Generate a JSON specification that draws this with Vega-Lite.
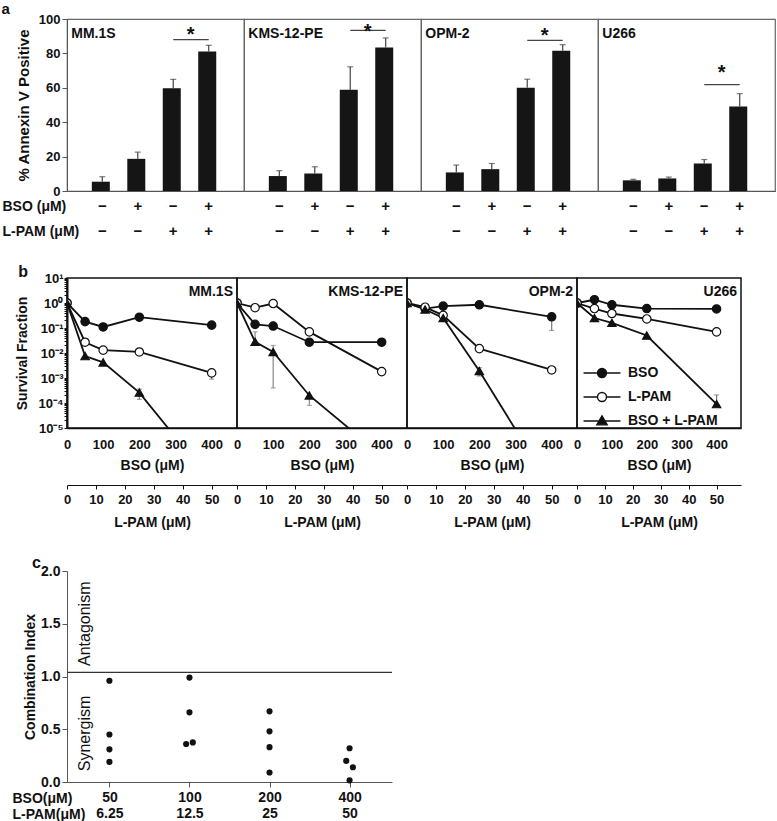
{
  "$schema": "https://vega.github.io/schema/vega-lite/v6.json",
  "background": "white",
  "padding": {"left": 1, "top": 2, "right": 0, "bottom": 0},
  "spacing": 25,
  "config": {
    "font": "Liberation Sans",
    "view": {"stroke": null},
    "axis": {"labelFont": "Liberation Sans", "titleFont": "Liberation Sans", "labelFontWeight": "bold", "titleFontWeight": "bold", "labelColor": "#111", "titleColor": "#111", "grid": false},
    "legend": {"labelFont": "Liberation Sans"},
    "title": {"font": "Liberation Sans", "fontSize": 16, "fontWeight": "bold", "color": "#111", "anchor": "start"},
    "text": {"font": "Liberation Sans"}
  },
  "datasets": {
    "annexin": [
      {"cell": "MM.1S", "treatment": "−,−", "mean": 5.4, "upper": 8.3},
      {"cell": "MM.1S", "treatment": "+,−", "mean": 18.7, "upper": 22.6},
      {"cell": "MM.1S", "treatment": "−,+", "mean": 59.7, "upper": 64.9},
      {"cell": "MM.1S", "treatment": "+,+", "mean": 81.1, "upper": 84.7},
      {"cell": "KMS-12-PE", "treatment": "−,−", "mean": 8.7, "upper": 11.8},
      {"cell": "KMS-12-PE", "treatment": "+,−", "mean": 10.2, "upper": 14.1},
      {"cell": "KMS-12-PE", "treatment": "−,+", "mean": 58.9, "upper": 72.2},
      {"cell": "KMS-12-PE", "treatment": "+,+", "mean": 83.4, "upper": 89.0},
      {"cell": "OPM-2", "treatment": "−,−", "mean": 10.8, "upper": 15.1},
      {"cell": "OPM-2", "treatment": "+,−", "mean": 12.7, "upper": 16.0},
      {"cell": "OPM-2", "treatment": "−,+", "mean": 60.0, "upper": 65.0},
      {"cell": "OPM-2", "treatment": "+,+", "mean": 81.5, "upper": 85.1},
      {"cell": "U266", "treatment": "−,−", "mean": 6.2, "upper": 6.8},
      {"cell": "U266", "treatment": "+,−", "mean": 7.3, "upper": 8.1},
      {"cell": "U266", "treatment": "−,+", "mean": 16.0, "upper": 18.3},
      {"cell": "U266", "treatment": "+,+", "mean": 49.2, "upper": 56.6}
    ],
    "sig": [
      {"cell": "MM.1S", "from": "−,+", "to": "+,+", "line": 88.0, "star": 87.0},
      {"cell": "KMS-12-PE", "from": "−,+", "to": "+,+", "line": 93.4, "star": 89.0},
      {"cell": "OPM-2", "from": "−,+", "to": "+,+", "line": 87.6, "star": 86.4},
      {"cell": "U266", "from": "−,+", "to": "+,+", "line": 61.8, "star": 65.0}
    ],
    "survival": [
      {"cell": "MM.1S", "series": "BSO", "bso": 0, "lpam": 0, "sf": 1.0},
      {"cell": "MM.1S", "series": "BSO", "bso": 50, "lpam": 6.25, "sf": 0.18},
      {"cell": "MM.1S", "series": "BSO", "bso": 100, "lpam": 12.5, "sf": 0.11},
      {"cell": "MM.1S", "series": "BSO", "bso": 200, "lpam": 25, "sf": 0.27},
      {"cell": "MM.1S", "series": "BSO", "bso": 400, "lpam": 50, "sf": 0.13},
      {"cell": "MM.1S", "series": "L-PAM", "bso": 0, "lpam": 0, "sf": 1.0},
      {"cell": "MM.1S", "series": "L-PAM", "bso": 50, "lpam": 6.25, "sf": 0.027},
      {"cell": "MM.1S", "series": "L-PAM", "bso": 100, "lpam": 12.5, "sf": 0.013},
      {"cell": "MM.1S", "series": "L-PAM", "bso": 200, "lpam": 25, "sf": 0.011},
      {"cell": "MM.1S", "series": "L-PAM", "bso": 400, "lpam": 50, "sf": 0.0016},
      {"cell": "MM.1S", "series": "BSO + L-PAM", "bso": 0, "lpam": 0, "sf": 1.0},
      {"cell": "MM.1S", "series": "BSO + L-PAM", "bso": 50, "lpam": 6.25, "sf": 0.0075},
      {"cell": "MM.1S", "series": "BSO + L-PAM", "bso": 100, "lpam": 12.5, "sf": 0.0042},
      {"cell": "MM.1S", "series": "BSO + L-PAM", "bso": 200, "lpam": 25, "sf": 0.00026},
      {"cell": "MM.1S", "series": "BSO + L-PAM", "bso": 400, "lpam": 50, "sf": 0.00000007},
      {"cell": "KMS-12-PE", "series": "BSO", "bso": 0, "lpam": 0, "sf": 1.0},
      {"cell": "KMS-12-PE", "series": "BSO", "bso": 50, "lpam": 6.25, "sf": 0.14},
      {"cell": "KMS-12-PE", "series": "BSO", "bso": 100, "lpam": 12.5, "sf": 0.12},
      {"cell": "KMS-12-PE", "series": "BSO", "bso": 200, "lpam": 25, "sf": 0.027},
      {"cell": "KMS-12-PE", "series": "BSO", "bso": 400, "lpam": 50, "sf": 0.027},
      {"cell": "KMS-12-PE", "series": "L-PAM", "bso": 0, "lpam": 0, "sf": 1.0},
      {"cell": "KMS-12-PE", "series": "L-PAM", "bso": 50, "lpam": 6.25, "sf": 0.65},
      {"cell": "KMS-12-PE", "series": "L-PAM", "bso": 100, "lpam": 12.5, "sf": 0.95},
      {"cell": "KMS-12-PE", "series": "L-PAM", "bso": 200, "lpam": 25, "sf": 0.07},
      {"cell": "KMS-12-PE", "series": "L-PAM", "bso": 400, "lpam": 50, "sf": 0.0018},
      {"cell": "KMS-12-PE", "series": "BSO + L-PAM", "bso": 0, "lpam": 0, "sf": 1.0},
      {"cell": "KMS-12-PE", "series": "BSO + L-PAM", "bso": 50, "lpam": 6.25, "sf": 0.028},
      {"cell": "KMS-12-PE", "series": "BSO + L-PAM", "bso": 100, "lpam": 12.5, "sf": 0.011},
      {"cell": "KMS-12-PE", "series": "BSO + L-PAM", "bso": 200, "lpam": 25, "sf": 0.0002},
      {"cell": "KMS-12-PE", "series": "BSO + L-PAM", "bso": 400, "lpam": 50, "sf": 0.0000008},
      {"cell": "OPM-2", "series": "BSO", "bso": 0, "lpam": 0, "sf": 1.0},
      {"cell": "OPM-2", "series": "BSO", "bso": 50, "lpam": 6.25, "sf": 0.6},
      {"cell": "OPM-2", "series": "BSO", "bso": 100, "lpam": 12.5, "sf": 0.75},
      {"cell": "OPM-2", "series": "BSO", "bso": 200, "lpam": 25, "sf": 0.85},
      {"cell": "OPM-2", "series": "BSO", "bso": 400, "lpam": 50, "sf": 0.28},
      {"cell": "OPM-2", "series": "L-PAM", "bso": 0, "lpam": 0, "sf": 1.0},
      {"cell": "OPM-2", "series": "L-PAM", "bso": 50, "lpam": 6.25, "sf": 0.68},
      {"cell": "OPM-2", "series": "L-PAM", "bso": 100, "lpam": 12.5, "sf": 0.32},
      {"cell": "OPM-2", "series": "L-PAM", "bso": 200, "lpam": 25, "sf": 0.015},
      {"cell": "OPM-2", "series": "L-PAM", "bso": 400, "lpam": 50, "sf": 0.0021},
      {"cell": "OPM-2", "series": "BSO + L-PAM", "bso": 0, "lpam": 0, "sf": 1.0},
      {"cell": "OPM-2", "series": "BSO + L-PAM", "bso": 50, "lpam": 6.25, "sf": 0.55},
      {"cell": "OPM-2", "series": "BSO + L-PAM", "bso": 100, "lpam": 12.5, "sf": 0.25},
      {"cell": "OPM-2", "series": "BSO + L-PAM", "bso": 200, "lpam": 25, "sf": 0.0019},
      {"cell": "OPM-2", "series": "BSO + L-PAM", "bso": 400, "lpam": 50, "sf": 0.00000004},
      {"cell": "U266", "series": "BSO", "bso": 0, "lpam": 0, "sf": 1.0},
      {"cell": "U266", "series": "BSO", "bso": 50, "lpam": 6.25, "sf": 1.35},
      {"cell": "U266", "series": "BSO", "bso": 100, "lpam": 12.5, "sf": 0.85},
      {"cell": "U266", "series": "BSO", "bso": 200, "lpam": 25, "sf": 0.6},
      {"cell": "U266", "series": "BSO", "bso": 400, "lpam": 50, "sf": 0.58},
      {"cell": "U266", "series": "L-PAM", "bso": 0, "lpam": 0, "sf": 1.0},
      {"cell": "U266", "series": "L-PAM", "bso": 50, "lpam": 6.25, "sf": 0.6},
      {"cell": "U266", "series": "L-PAM", "bso": 100, "lpam": 12.5, "sf": 0.38},
      {"cell": "U266", "series": "L-PAM", "bso": 200, "lpam": 25, "sf": 0.23},
      {"cell": "U266", "series": "L-PAM", "bso": 400, "lpam": 50, "sf": 0.07},
      {"cell": "U266", "series": "BSO + L-PAM", "bso": 0, "lpam": 0, "sf": 1.0},
      {"cell": "U266", "series": "BSO + L-PAM", "bso": 50, "lpam": 6.25, "sf": 0.25},
      {"cell": "U266", "series": "BSO + L-PAM", "bso": 100, "lpam": 12.5, "sf": 0.16},
      {"cell": "U266", "series": "BSO + L-PAM", "bso": 200, "lpam": 25, "sf": 0.05},
      {"cell": "U266", "series": "BSO + L-PAM", "bso": 400, "lpam": 50, "sf": 0.00009}
    ],
    "survErr": [
      {"cell": "MM.1S", "series": "L-PAM", "bso": 400, "lo": 0.0009, "hi": 0.0016},
      {"cell": "MM.1S", "series": "BSO + L-PAM", "bso": 200, "lo": 0.00014, "hi": 0.00036},
      {"cell": "KMS-12-PE", "series": "BSO + L-PAM", "bso": 50, "lo": 0.028, "hi": 0.07},
      {"cell": "KMS-12-PE", "series": "BSO + L-PAM", "bso": 100, "lo": 0.0004, "hi": 0.02},
      {"cell": "KMS-12-PE", "series": "BSO + L-PAM", "bso": 200, "lo": 0.00008, "hi": 0.0002},
      {"cell": "OPM-2", "series": "BSO", "bso": 400, "lo": 0.08, "hi": 0.28},
      {"cell": "OPM-2", "series": "BSO + L-PAM", "bso": 200, "lo": 0.0012, "hi": 0.0026},
      {"cell": "U266", "series": "BSO + L-PAM", "bso": 400, "lo": 0.00009, "hi": 0.00021}
    ],
    "ci": [
      {"dose": "50,6.25", "ci": 0.96, "spot": "C"},
      {"dose": "50,6.25", "ci": 0.45, "spot": "C"},
      {"dose": "50,6.25", "ci": 0.31, "spot": "C"},
      {"dose": "50,6.25", "ci": 0.19, "spot": "C"},
      {"dose": "100,12.5", "ci": 0.99, "spot": "C"},
      {"dose": "100,12.5", "ci": 0.66, "spot": "C"},
      {"dose": "100,12.5", "ci": 0.36, "spot": "L"},
      {"dose": "100,12.5", "ci": 0.375, "spot": "R"},
      {"dose": "200,25", "ci": 0.67, "spot": "C"},
      {"dose": "200,25", "ci": 0.48, "spot": "C"},
      {"dose": "200,25", "ci": 0.33, "spot": "C"},
      {"dose": "200,25", "ci": 0.09, "spot": "C"},
      {"dose": "400,50", "ci": 0.32, "spot": "C"},
      {"dose": "400,50", "ci": 0.2, "spot": "L"},
      {"dose": "400,50", "ci": 0.14, "spot": "R"},
      {"dose": "400,50", "ci": 0.016, "spot": "C"}
    ]
  },
  "vconcat": [
    {
      "title": {"text": "a", "anchor": "start", "frame": "bounds", "offset": -5, "fontSize": 15},
      "spacing": 0,
      "bounds": "flush",
      "hconcat": [
        {
          "width": 177, "height": 172,
          "view": {"stroke": "#666", "strokeWidth": 1.2},
          "encoding": {"x": {"field": "treatment", "type": "nominal", "sort": null,
            "scale": {"domain": ["−,−", "+,−", "−,+", "+,+"], "paddingInner": 0.41, "paddingOuter": 0.7},
            "axis": {"title": ["BSO (μM)", "L-PAM (μM)"], "titleX": -65, "titleY": 19, "titleAlign": "left", "titleAnchor": "start", "titleBaseline": "alphabetic", "titleLineHeight": 25, "titleFontSize": 14, "titleAngle": 0,
              "labelExpr": "split(datum.label, ',')", "labelAngle": 0, "labelFontSize": 15, "labelLineHeight": 25, "labelPadding": 7, "ticks": false, "tickSize": 0, "domainColor": "#555", "domainWidth": 1.2}}},
          "layer": [
            {"data": {"name": "annexin"}, "transform": [{"filter": "datum.cell === 'MM.1S'"}],
             "layer": [
               {"mark": {"type": "bar", "color": "#151515"}, "encoding": {"y": {"field": "mean", "type": "quantitative", "scale": {"domain": [0, 100], "nice": false},
                 "axis": {"title": "% Annexin V Positive", "titleFontSize": 15, "titlePadding": 7, "values": [0, 20, 40, 60, 80, 100], "labelOverlap": false, "tickSize": 5, "labelPadding": 2, "labelFontSize": 13, "domainColor": "#555", "tickColor": "#555"}}}},
               {"mark": {"type": "rule", "color": "#444", "strokeWidth": 1.2}, "encoding": {"y": {"field": "mean", "type": "quantitative",
                 "axis": {"title": "% Annexin V Positive", "titleFontSize": 15, "titlePadding": 7, "values": [0, 20, 40, 60, 80, 100], "labelOverlap": false, "tickSize": 5, "labelPadding": 2, "labelFontSize": 13, "domainColor": "#555", "tickColor": "#555"}}, "y2": {"field": "upper"}}},
               {"mark": {"type": "tick", "color": "#444", "thickness": 1.2, "size": 6, "orient": "horizontal"}, "encoding": {"y": {"field": "upper", "type": "quantitative",
                 "axis": {"title": "% Annexin V Positive", "titleFontSize": 15, "titlePadding": 7, "values": [0, 20, 40, 60, 80, 100], "labelOverlap": false, "tickSize": 5, "labelPadding": 2, "labelFontSize": 13, "domainColor": "#555", "tickColor": "#555"}}}}
             ]},
            {"data": {"name": "sig"}, "transform": [{"filter": "datum.cell === 'MM.1S'"}],
             "layer": [
               {"mark": {"type": "rule", "color": "#444", "strokeWidth": 1.2}, "encoding": {"x": {"field": "from", "type": "nominal"}, "x2": {"field": "to"}, "y": {"field": "line", "type": "quantitative",
                 "axis": {"title": "% Annexin V Positive", "titleFontSize": 15, "titlePadding": 7, "values": [0, 20, 40, 60, 80, 100], "labelOverlap": false, "tickSize": 5, "labelPadding": 2, "labelFontSize": 13, "domainColor": "#555", "tickColor": "#555"}}}},
               {"mark": {"type": "text", "text": "*", "fontSize": 20, "fontWeight": "bold", "baseline": "alphabetic", "align": "center", "dx": 7, "color": "#111"}, "encoding": {"x": {"field": "from", "type": "nominal", "bandPosition": 1}, "y": {"field": "star", "type": "quantitative",
                 "axis": {"title": "% Annexin V Positive", "titleFontSize": 15, "titlePadding": 7, "values": [0, 20, 40, 60, 80, 100], "labelOverlap": false, "tickSize": 5, "labelPadding": 2, "labelFontSize": 13, "domainColor": "#555", "tickColor": "#555"}}}},
               {"mark": {"type": "text", "align": "left", "baseline": "alphabetic", "fontSize": 14, "fontWeight": "bold", "dx": -31, "color": "#111"}, "encoding": {"x": {"datum": "−,−", "type": "nominal"}, "y": {"datum": 89, "type": "quantitative",
                 "axis": {"title": "% Annexin V Positive", "titleFontSize": 15, "titlePadding": 7, "values": [0, 20, 40, 60, 80, 100], "labelOverlap": false, "tickSize": 5, "labelPadding": 2, "labelFontSize": 13, "domainColor": "#555", "tickColor": "#555"}}, "text": {"field": "cell"}}}
             ]}
          ]
        },
        {
          "width": 177, "height": 172,
          "view": {"stroke": "#666", "strokeWidth": 1.2},
          "encoding": {"x": {"field": "treatment", "type": "nominal", "sort": null,
            "scale": {"domain": ["−,−", "+,−", "−,+", "+,+"], "paddingInner": 0.41, "paddingOuter": 0.7},
            "axis": {"title": null, "labelExpr": "split(datum.label, ',')", "labelAngle": 0, "labelFontSize": 15, "labelLineHeight": 25, "labelPadding": 7, "ticks": false, "tickSize": 0, "domainColor": "#555", "domainWidth": 1.2}}},
          "layer": [
            {"data": {"name": "annexin"}, "transform": [{"filter": "datum.cell === 'KMS-12-PE'"}],
             "layer": [
               {"mark": {"type": "bar", "color": "#151515"}, "encoding": {"y": {"field": "mean", "type": "quantitative", "scale": {"domain": [0, 100], "nice": false}, "axis": null}}},
               {"mark": {"type": "rule", "color": "#444", "strokeWidth": 1.2}, "encoding": {"y": {"field": "mean", "type": "quantitative", "axis": null}, "y2": {"field": "upper"}}},
               {"mark": {"type": "tick", "color": "#444", "thickness": 1.2, "size": 6, "orient": "horizontal"}, "encoding": {"y": {"field": "upper", "type": "quantitative", "axis": null}}}
             ]},
            {"data": {"name": "sig"}, "transform": [{"filter": "datum.cell === 'KMS-12-PE'"}],
             "layer": [
               {"mark": {"type": "rule", "color": "#444", "strokeWidth": 1.2}, "encoding": {"x": {"field": "from", "type": "nominal"}, "x2": {"field": "to"}, "y": {"field": "line", "type": "quantitative", "axis": null}}},
               {"mark": {"type": "text", "text": "*", "fontSize": 20, "fontWeight": "bold", "baseline": "alphabetic", "align": "center", "dx": 7, "color": "#111"}, "encoding": {"x": {"field": "from", "type": "nominal", "bandPosition": 1}, "y": {"field": "star", "type": "quantitative", "axis": null}}},
               {"mark": {"type": "text", "align": "left", "baseline": "alphabetic", "fontSize": 14, "fontWeight": "bold", "dx": -31, "color": "#111"}, "encoding": {"x": {"datum": "−,−", "type": "nominal"}, "y": {"datum": 89, "type": "quantitative", "axis": null}, "text": {"field": "cell"}}}
             ]}
          ]
        },
        {
          "width": 177, "height": 172,
          "view": {"stroke": "#666", "strokeWidth": 1.2},
          "encoding": {"x": {"field": "treatment", "type": "nominal", "sort": null,
            "scale": {"domain": ["−,−", "+,−", "−,+", "+,+"], "paddingInner": 0.41, "paddingOuter": 0.7},
            "axis": {"title": null, "labelExpr": "split(datum.label, ',')", "labelAngle": 0, "labelFontSize": 15, "labelLineHeight": 25, "labelPadding": 7, "ticks": false, "tickSize": 0, "domainColor": "#555", "domainWidth": 1.2}}},
          "layer": [
            {"data": {"name": "annexin"}, "transform": [{"filter": "datum.cell === 'OPM-2'"}],
             "layer": [
               {"mark": {"type": "bar", "color": "#151515"}, "encoding": {"y": {"field": "mean", "type": "quantitative", "scale": {"domain": [0, 100], "nice": false}, "axis": null}}},
               {"mark": {"type": "rule", "color": "#444", "strokeWidth": 1.2}, "encoding": {"y": {"field": "mean", "type": "quantitative", "axis": null}, "y2": {"field": "upper"}}},
               {"mark": {"type": "tick", "color": "#444", "thickness": 1.2, "size": 6, "orient": "horizontal"}, "encoding": {"y": {"field": "upper", "type": "quantitative", "axis": null}}}
             ]},
            {"data": {"name": "sig"}, "transform": [{"filter": "datum.cell === 'OPM-2'"}],
             "layer": [
               {"mark": {"type": "rule", "color": "#444", "strokeWidth": 1.2}, "encoding": {"x": {"field": "from", "type": "nominal"}, "x2": {"field": "to"}, "y": {"field": "line", "type": "quantitative", "axis": null}}},
               {"mark": {"type": "text", "text": "*", "fontSize": 20, "fontWeight": "bold", "baseline": "alphabetic", "align": "center", "dx": 7, "color": "#111"}, "encoding": {"x": {"field": "from", "type": "nominal", "bandPosition": 1}, "y": {"field": "star", "type": "quantitative", "axis": null}}},
               {"mark": {"type": "text", "align": "left", "baseline": "alphabetic", "fontSize": 14, "fontWeight": "bold", "dx": -31, "color": "#111"}, "encoding": {"x": {"datum": "−,−", "type": "nominal"}, "y": {"datum": 89, "type": "quantitative", "axis": null}, "text": {"field": "cell"}}}
             ]}
          ]
        },
        {
          "width": 177, "height": 172,
          "view": {"stroke": "#666", "strokeWidth": 1.2},
          "encoding": {"x": {"field": "treatment", "type": "nominal", "sort": null,
            "scale": {"domain": ["−,−", "+,−", "−,+", "+,+"], "paddingInner": 0.41, "paddingOuter": 0.7},
            "axis": {"title": null, "labelExpr": "split(datum.label, ',')", "labelAngle": 0, "labelFontSize": 15, "labelLineHeight": 25, "labelPadding": 7, "ticks": false, "tickSize": 0, "domainColor": "#555", "domainWidth": 1.2}}},
          "layer": [
            {"data": {"name": "annexin"}, "transform": [{"filter": "datum.cell === 'U266'"}],
             "layer": [
               {"mark": {"type": "bar", "color": "#151515"}, "encoding": {"y": {"field": "mean", "type": "quantitative", "scale": {"domain": [0, 100], "nice": false}, "axis": null}}},
               {"mark": {"type": "rule", "color": "#444", "strokeWidth": 1.2}, "encoding": {"y": {"field": "mean", "type": "quantitative", "axis": null}, "y2": {"field": "upper"}}},
               {"mark": {"type": "tick", "color": "#444", "thickness": 1.2, "size": 6, "orient": "horizontal"}, "encoding": {"y": {"field": "upper", "type": "quantitative", "axis": null}}}
             ]},
            {"data": {"name": "sig"}, "transform": [{"filter": "datum.cell === 'U266'"}],
             "layer": [
               {"mark": {"type": "rule", "color": "#444", "strokeWidth": 1.2}, "encoding": {"x": {"field": "from", "type": "nominal"}, "x2": {"field": "to"}, "y": {"field": "line", "type": "quantitative", "axis": null}}},
               {"mark": {"type": "text", "text": "*", "fontSize": 20, "fontWeight": "bold", "baseline": "alphabetic", "align": "center", "dx": 7, "color": "#111"}, "encoding": {"x": {"field": "from", "type": "nominal", "bandPosition": 1}, "y": {"field": "star", "type": "quantitative", "axis": null}}},
               {"mark": {"type": "text", "align": "left", "baseline": "alphabetic", "fontSize": 14, "fontWeight": "bold", "dx": -31, "color": "#111"}, "encoding": {"x": {"datum": "−,−", "type": "nominal"}, "y": {"datum": 89, "type": "quantitative", "axis": null}, "text": {"field": "cell"}}}
             ]}
          ]
        }
      ]
    },
    {
      "title": {"text": "b", "anchor": "start", "frame": "bounds", "offset": -9, "dx": 4},
      "spacing": 0,
      "bounds": "flush",
      "resolve": {"scale": {"shape": "independent", "fill": "independent"}, "legend": {"shape": "independent", "fill": "independent"}},
      "hconcat": [
        {
          "width": 170, "height": 150,
          "view": {"stroke": "#111", "strokeWidth": 1.5},
          "resolve": {"scale": {"x": "independent"}, "axis": {"x": "independent"}},
          "layer": [
            {"data": {"name": "survErr"}, "transform": [{"filter": "datum.cell === 'MM.1S'"}],
             "layer": [
               {"mark": {"type": "rule", "color": "#777", "strokeWidth": 1.2}, "encoding": {"x": {"field": "bso", "type": "quantitative", "scale": {"domain": [0, 470], "nice": false}, "axis": null}, "y": {"field": "lo", "type": "quantitative"}, "y2": {"field": "hi"}}},
               {"mark": {"type": "tick", "orient": "horizontal", "color": "#777", "size": 5, "thickness": 1.2}, "encoding": {"x": {"field": "bso", "type": "quantitative", "axis": null}, "y": {"field": "lo", "type": "quantitative"}}},
               {"mark": {"type": "tick", "orient": "horizontal", "color": "#777", "size": 5, "thickness": 1.2}, "encoding": {"x": {"field": "bso", "type": "quantitative", "axis": null}, "y": {"field": "hi", "type": "quantitative"}}}
             ]},
            {"data": {"name": "survival"}, "transform": [{"filter": "datum.cell === 'MM.1S'"}],
             "layer": [
               {"mark": {"type": "line", "color": "#111", "strokeWidth": 1.8, "clip": true},
                "encoding": {
                  "x": {"field": "bso", "type": "quantitative", "scale": {"domain": [0, 470], "nice": false},
                    "axis": {"orient": "bottom", "values": [0, 100, 200, 300, 400], "title": "BSO (μM)", "titleFontSize": 14, "labelFontSize": 13, "ticks": false, "tickSize": 0, "labelPadding": 10, "titlePadding": 7, "labelFlush": false, "labelOverlap": false, "domainColor": "#111", "domainWidth": 1.5}},
                  "y": {"field": "sf", "type": "quantitative", "scale": {"type": "log", "domain": [0.00001, 10]},
                    "axis": {"title": "Survival Fraction", "titleFontSize": 14, "titlePadding": 9, "labelFontSize": 13, "tickSize": 3, "labelPadding": 1, "labelFlush": false, "labelOverlap": false, "domainColor": "#111", "domainWidth": 2, "tickColor": "#111",
                      "values": [0.00001, 0.00002, 0.00003, 0.00004, 0.00005, 0.00006, 0.00007, 0.00008, 0.00009, 0.0001, 0.0002, 0.0003, 0.0004, 0.0005, 0.0006, 0.0007, 0.0008, 0.0009, 0.001, 0.002, 0.003, 0.004, 0.005, 0.006, 0.007, 0.008, 0.009, 0.01, 0.02, 0.03, 0.04, 0.05, 0.06, 0.07, 0.08, 0.09, 0.1, 0.2, 0.3, 0.4, 0.5, 0.6, 0.7, 0.8, 0.9, 1, 2, 3, 4, 5, 6, 7, 8, 9, 10],
                      "labelExpr": "abs(log(datum.value)/LN10 - round(log(datum.value)/LN10)) > 0.001 ? '' : (round(log(datum.value)/LN10) == 1 ? '10¹' : (round(log(datum.value)/LN10) == 0 ? '10⁰' : '10⁻' + ['', '¹', '²', '³', '⁴', '⁵'][-round(log(datum.value)/LN10)]))"}},
                  "detail": {"field": "series", "type": "nominal"}}},
               {"mark": {"type": "point", "filled": true, "size": 70, "strokeWidth": 1.2, "opacity": 1, "clip": true},
                "encoding": {
                  "x": {"field": "bso", "type": "quantitative"},
                  "y": {"field": "sf", "type": "quantitative"},
                  "shape": {"field": "series", "type": "nominal", "scale": {"domain": ["BSO", "L-PAM", "BSO + L-PAM"], "range": ["circle", "circle", "triangle-up"]}, "legend": null},
                  "fill": {"field": "series", "type": "nominal", "scale": {"domain": ["BSO", "L-PAM", "BSO + L-PAM"], "range": ["#111111", "#ffffff", "#111111"]}, "legend": null},
                  "stroke": {"value": "#111"}}}
             ]},
            {"data": {"values": [{"label": "MM.1S"}]},
             "mark": {"type": "text", "align": "right", "baseline": "alphabetic", "fontSize": 14, "fontWeight": "bold", "dx": -4, "color": "#111"},
             "encoding": {"x": {"datum": 470, "type": "quantitative", "scale": {"domain": [0, 470], "nice": false}, "axis": null}, "y": {"datum": 1.9, "type": "quantitative"}, "text": {"field": "label"}}},
            {"data": {"name": "survival"}, "transform": [{"filter": "datum.cell === 'MM.1S'"}],
             "mark": {"type": "point", "opacity": 0},
             "encoding": {"x": {"field": "lpam", "type": "quantitative", "scale": {"domain": [0, 58.75], "nice": false},
               "axis": {"orient": "bottom", "offset": 57, "values": [0, 10, 20, 30, 40, 50], "title": "L-PAM (μM)", "titleFontSize": 14, "labelFontSize": 13, "tickSize": 4, "labelPadding": 4, "titlePadding": 9, "labelFlush": false, "labelOverlap": false, "domainColor": "#111", "tickColor": "#111"}},
               "y": {"field": "sf", "type": "quantitative"}}}
          ]
        },
        {
          "width": 170, "height": 150,
          "view": {"stroke": "#111", "strokeWidth": 1.5},
          "resolve": {"scale": {"x": "independent"}, "axis": {"x": "independent"}},
          "layer": [
            {"data": {"name": "survErr"}, "transform": [{"filter": "datum.cell === 'KMS-12-PE'"}],
             "layer": [
               {"mark": {"type": "rule", "color": "#888", "strokeWidth": 1.2}, "encoding": {"x": {"field": "bso", "type": "quantitative", "scale": {"domain": [0, 470], "nice": false}, "axis": null}, "y": {"field": "lo", "type": "quantitative", "axis": null}, "y2": {"field": "hi"}}},
               {"mark": {"type": "tick", "orient": "horizontal", "color": "#888", "size": 5, "thickness": 1.2}, "encoding": {"x": {"field": "bso", "type": "quantitative", "axis": null}, "y": {"field": "lo", "type": "quantitative", "axis": null}}},
               {"mark": {"type": "tick", "orient": "horizontal", "color": "#888", "size": 5, "thickness": 1.2}, "encoding": {"x": {"field": "bso", "type": "quantitative", "axis": null}, "y": {"field": "hi", "type": "quantitative", "axis": null}}}
             ]},
            {"data": {"name": "survival"}, "transform": [{"filter": "datum.cell === 'KMS-12-PE'"}],
             "layer": [
               {"mark": {"type": "line", "color": "#111", "strokeWidth": 1.8, "clip": true},
                "encoding": {
                  "x": {"field": "bso", "type": "quantitative", "scale": {"domain": [0, 470], "nice": false},
                    "axis": {"orient": "bottom", "values": [0, 100, 200, 300, 400], "title": "BSO (μM)", "titleFontSize": 14, "labelFontSize": 13, "ticks": false, "tickSize": 0, "labelPadding": 10, "titlePadding": 7, "labelFlush": false, "labelOverlap": false, "domainColor": "#111", "domainWidth": 1.5}},
                  "y": {"field": "sf", "type": "quantitative", "scale": {"type": "log", "domain": [0.00001, 10]}, "axis": null},
                  "detail": {"field": "series", "type": "nominal"}}},
               {"mark": {"type": "point", "filled": true, "size": 70, "strokeWidth": 1.2, "opacity": 1, "clip": true},
                "encoding": {
                  "x": {"field": "bso", "type": "quantitative"},
                  "y": {"field": "sf", "type": "quantitative", "axis": null},
                  "shape": {"field": "series", "type": "nominal", "scale": {"domain": ["BSO", "L-PAM", "BSO + L-PAM"], "range": ["circle", "circle", "triangle-up"]}, "legend": null},
                  "fill": {"field": "series", "type": "nominal", "scale": {"domain": ["BSO", "L-PAM", "BSO + L-PAM"], "range": ["#111111", "#ffffff", "#111111"]}, "legend": null},
                  "stroke": {"value": "#111"}}}
             ]},
            {"data": {"values": [{"label": "KMS-12-PE"}]},
             "mark": {"type": "text", "align": "right", "baseline": "alphabetic", "fontSize": 14, "fontWeight": "bold", "dx": -4, "color": "#111"},
             "encoding": {"x": {"datum": 470, "type": "quantitative", "scale": {"domain": [0, 470], "nice": false}, "axis": null}, "y": {"datum": 1.9, "type": "quantitative", "axis": null}, "text": {"field": "label"}}},
            {"data": {"name": "survival"}, "transform": [{"filter": "datum.cell === 'KMS-12-PE'"}],
             "mark": {"type": "point", "opacity": 0},
             "encoding": {"x": {"field": "lpam", "type": "quantitative", "scale": {"domain": [0, 58.75], "nice": false},
               "axis": {"orient": "bottom", "offset": 57, "values": [0, 10, 20, 30, 40, 50], "title": "L-PAM (μM)", "titleFontSize": 14, "labelFontSize": 13, "tickSize": 4, "labelPadding": 4, "titlePadding": 9, "labelFlush": false, "labelOverlap": false, "domainColor": "#111", "tickColor": "#111"}},
               "y": {"field": "sf", "type": "quantitative", "axis": null}}}
          ]
        },
        {
          "width": 170, "height": 150,
          "view": {"stroke": "#111", "strokeWidth": 1.5},
          "resolve": {"scale": {"x": "independent"}, "axis": {"x": "independent"}},
          "layer": [
            {"data": {"name": "survErr"}, "transform": [{"filter": "datum.cell === 'OPM-2'"}],
             "layer": [
               {"mark": {"type": "rule", "color": "#777", "strokeWidth": 1.2}, "encoding": {"x": {"field": "bso", "type": "quantitative", "scale": {"domain": [0, 470], "nice": false}, "axis": null}, "y": {"field": "lo", "type": "quantitative", "axis": null}, "y2": {"field": "hi"}}},
               {"mark": {"type": "tick", "orient": "horizontal", "color": "#777", "size": 5, "thickness": 1.2}, "encoding": {"x": {"field": "bso", "type": "quantitative", "axis": null}, "y": {"field": "lo", "type": "quantitative", "axis": null}}},
               {"mark": {"type": "tick", "orient": "horizontal", "color": "#777", "size": 5, "thickness": 1.2}, "encoding": {"x": {"field": "bso", "type": "quantitative", "axis": null}, "y": {"field": "hi", "type": "quantitative", "axis": null}}}
             ]},
            {"data": {"name": "survival"}, "transform": [{"filter": "datum.cell === 'OPM-2'"}],
             "layer": [
               {"mark": {"type": "line", "color": "#111", "strokeWidth": 1.8, "clip": true},
                "encoding": {
                  "x": {"field": "bso", "type": "quantitative", "scale": {"domain": [0, 470], "nice": false},
                    "axis": {"orient": "bottom", "values": [0, 100, 200, 300, 400], "title": "BSO (μM)", "titleFontSize": 14, "labelFontSize": 13, "ticks": false, "tickSize": 0, "labelPadding": 10, "titlePadding": 7, "labelFlush": false, "labelOverlap": false, "domainColor": "#111", "domainWidth": 1.5}},
                  "y": {"field": "sf", "type": "quantitative", "scale": {"type": "log", "domain": [0.00001, 10]}, "axis": null},
                  "detail": {"field": "series", "type": "nominal"}}},
               {"mark": {"type": "point", "filled": true, "size": 70, "strokeWidth": 1.2, "opacity": 1, "clip": true},
                "encoding": {
                  "x": {"field": "bso", "type": "quantitative"},
                  "y": {"field": "sf", "type": "quantitative", "axis": null},
                  "shape": {"field": "series", "type": "nominal", "scale": {"domain": ["BSO", "L-PAM", "BSO + L-PAM"], "range": ["circle", "circle", "triangle-up"]}, "legend": null},
                  "fill": {"field": "series", "type": "nominal", "scale": {"domain": ["BSO", "L-PAM", "BSO + L-PAM"], "range": ["#111111", "#ffffff", "#111111"]}, "legend": null},
                  "stroke": {"value": "#111"}}}
             ]},
            {"data": {"values": [{"label": "OPM-2"}]},
             "mark": {"type": "text", "align": "right", "baseline": "alphabetic", "fontSize": 14, "fontWeight": "bold", "dx": -4, "color": "#111"},
             "encoding": {"x": {"datum": 470, "type": "quantitative", "scale": {"domain": [0, 470], "nice": false}, "axis": null}, "y": {"datum": 1.9, "type": "quantitative", "axis": null}, "text": {"field": "label"}}},
            {"data": {"name": "survival"}, "transform": [{"filter": "datum.cell === 'OPM-2'"}],
             "mark": {"type": "point", "opacity": 0},
             "encoding": {"x": {"field": "lpam", "type": "quantitative", "scale": {"domain": [0, 58.75], "nice": false},
               "axis": {"orient": "bottom", "offset": 57, "values": [0, 10, 20, 30, 40, 50], "title": "L-PAM (μM)", "titleFontSize": 14, "labelFontSize": 13, "tickSize": 4, "labelPadding": 4, "titlePadding": 9, "labelFlush": false, "labelOverlap": false, "domainColor": "#111", "tickColor": "#111"}},
               "y": {"field": "sf", "type": "quantitative", "axis": null}}}
          ]
        },
        {
          "width": 164, "height": 150,
          "view": {"stroke": "#111", "strokeWidth": 1.5},
          "resolve": {"scale": {"x": "independent", "shape": "independent", "fill": "independent"}, "axis": {"x": "independent"}, "legend": {"shape": "independent", "fill": "independent"}},
          "layer": [
            {"data": {"name": "survErr"}, "transform": [{"filter": "datum.cell === 'U266'"}],
             "layer": [
               {"mark": {"type": "rule", "color": "#777", "strokeWidth": 1.2}, "encoding": {"x": {"field": "bso", "type": "quantitative", "scale": {"domain": [0, 470], "nice": false}, "axis": null}, "y": {"field": "lo", "type": "quantitative", "axis": null}, "y2": {"field": "hi"}}},
               {"mark": {"type": "tick", "orient": "horizontal", "color": "#777", "size": 5, "thickness": 1.2}, "encoding": {"x": {"field": "bso", "type": "quantitative", "axis": null}, "y": {"field": "lo", "type": "quantitative", "axis": null}}},
               {"mark": {"type": "tick", "orient": "horizontal", "color": "#777", "size": 5, "thickness": 1.2}, "encoding": {"x": {"field": "bso", "type": "quantitative", "axis": null}, "y": {"field": "hi", "type": "quantitative", "axis": null}}}
             ]},
            {"data": {"name": "survival"}, "transform": [{"filter": "datum.cell === 'U266'"}],
             "layer": [
               {"mark": {"type": "line", "color": "#111", "strokeWidth": 1.8, "clip": true},
                "encoding": {
                  "x": {"field": "bso", "type": "quantitative", "scale": {"domain": [0, 470], "nice": false},
                    "axis": {"orient": "bottom", "values": [0, 100, 200, 300, 400], "title": "BSO (μM)", "titleFontSize": 14, "labelFontSize": 13, "ticks": false, "tickSize": 0, "labelPadding": 10, "titlePadding": 7, "labelFlush": false, "labelOverlap": false, "domainColor": "#111", "domainWidth": 1.5}},
                  "y": {"field": "sf", "type": "quantitative", "scale": {"type": "log", "domain": [0.00001, 10]}, "axis": null},
                  "detail": {"field": "series", "type": "nominal"}}},
               {"mark": {"type": "point", "filled": true, "size": 70, "strokeWidth": 1.2, "opacity": 1, "clip": true},
                "encoding": {
                  "x": {"field": "bso", "type": "quantitative"},
                  "y": {"field": "sf", "type": "quantitative", "axis": null},
                  "shape": {"field": "series", "type": "nominal", "scale": {"domain": ["BSO", "L-PAM", "BSO + L-PAM"], "range": ["circle", "circle", "triangle-up"]}, "legend": null},
                  "fill": {"field": "series", "type": "nominal", "scale": {"domain": ["BSO", "L-PAM", "BSO + L-PAM"], "range": ["#111111", "#ffffff", "#111111"]}, "legend": null},
                  "stroke": {"value": "#111"}}}
             ]},
            {"data": {"name": "survival"}, "transform": [{"filter": "datum.sf < 0.00001"}],
             "mark": {"type": "point", "filled": true, "opacity": 1, "stroke": "#111", "strokeWidth": 1.4, "clip": true},
             "encoding": {
               "x": {"field": "bso", "type": "quantitative", "scale": {"domain": [0, 470], "nice": false}, "axis": null},
               "y": {"field": "sf", "type": "quantitative", "axis": null},
               "shape": {"field": "series", "type": "nominal", "scale": {"domain": ["BSO", "L-PAM", "BSO + L-PAM"], "range": ["M-4.1,0H-1M1,0H4.1M1,0A1,1 0 1,1 -1,0A1,1 0 1,1 1,0Z", "M-4.1,0H-1M1,0H4.1M1,0A1,1 0 1,1 -1,0A1,1 0 1,1 1,0Z", "M-4.1,0H4.1M0,-1.15L1.15,0.85L-1.15,0.85Z"]},
                 "legend": {"title": null, "orient": "none", "legendX": 18, "legendY": 88, "padding": 0, "labelFontSize": 14, "labelFontWeight": "bold", "labelColor": "#111", "symbolSize": 81, "symbolStrokeWidth": 1.4, "symbolStrokeColor": "#111", "rowPadding": 8, "labelOffset": 19,
                   "encoding": {"symbols": {"stroke": {"value": "#111"}, "strokeWidth": {"value": 1.4}}}}},
               "fill": {"field": "series", "type": "nominal", "scale": {"domain": ["BSO", "L-PAM", "BSO + L-PAM"], "range": ["#111111", "#ffffff", "#111111"]},
                 "legend": {"title": null, "orient": "none", "legendX": 18, "legendY": 88, "padding": 0, "labelFontSize": 14, "labelFontWeight": "bold", "labelColor": "#111", "symbolSize": 81, "symbolStrokeWidth": 1.4, "symbolStrokeColor": "#111", "rowPadding": 8, "labelOffset": 19,
                   "encoding": {"symbols": {"stroke": {"value": "#111"}, "strokeWidth": {"value": 1.4}}}}}}},
            {"data": {"values": [{"label": "U266"}]},
             "mark": {"type": "text", "align": "right", "baseline": "alphabetic", "fontSize": 14, "fontWeight": "bold", "dx": -4, "color": "#111"},
             "encoding": {"x": {"datum": 470, "type": "quantitative", "scale": {"domain": [0, 470], "nice": false}, "axis": null}, "y": {"datum": 1.9, "type": "quantitative", "axis": null}, "text": {"field": "label"}}},
            {"data": {"name": "survival"}, "transform": [{"filter": "datum.cell === 'U266'"}],
             "mark": {"type": "point", "opacity": 0},
             "encoding": {"x": {"field": "lpam", "type": "quantitative", "scale": {"domain": [0, 58.75], "nice": false},
               "axis": {"orient": "bottom", "offset": 57, "values": [0, 10, 20, 30, 40, 50], "title": "L-PAM (μM)", "titleFontSize": 14, "labelFontSize": 13, "tickSize": 4, "labelPadding": 4, "titlePadding": 9, "labelFlush": false, "labelOverlap": false, "domainColor": "#111", "tickColor": "#111"}},
               "y": {"field": "sf", "type": "quantitative", "axis": null}}}
          ]
        }
      ]
    },
    {
      "title": {"text": "c", "anchor": "start", "frame": "bounds", "offset": -7, "dx": 20},
      "width": 325, "height": 211,
      "layer": [
        {"data": {"values": [{"threshold": 1.04}]},
         "mark": {"type": "rule", "color": "#333", "strokeWidth": 1.2},
         "encoding": {"y": {"field": "threshold", "type": "quantitative"}}},
        {"data": {"name": "ci"},
         "mark": {"type": "circle", "size": 38, "color": "#111", "opacity": 1},
         "encoding": {
           "x": {"field": "dose", "type": "nominal", "sort": null,
             "scale": {"type": "point", "domain": ["50,6.25", "100,12.5", "200,25", "400,50"], "padding": 0.53},
             "axis": {"title": ["BSO(μM)", "L-PAM(μM)"], "titleX": -55, "titleY": 20, "titleAlign": "left", "titleAnchor": "start", "titleBaseline": "alphabetic", "titleLineHeight": 16.5, "titleFontSize": 14, "titleAngle": 0,
               "labelExpr": "split(datum.label, ',')", "labelAngle": 0, "labelFontSize": 14, "labelLineHeight": 16.5, "labelPadding": 3, "tickSize": 5, "domainColor": "#555", "tickColor": "#555"}},
           "xOffset": {"field": "spot", "type": "nominal", "scale": {"type": "point", "domain": ["L", "C", "R"], "range": [-5, 5]}},
           "y": {"field": "ci", "type": "quantitative", "scale": {"domain": [0, 2], "nice": false},
             "axis": {"title": "Combination Index", "values": [0, 0.5, 1, 1.5, 2], "format": ".1f", "tickSize": 5, "labelPadding": 2, "titlePadding": 3, "labelFontSize": 14, "titleFontSize": 14, "domainColor": "#555", "tickColor": "#555"}}}},
        {"data": {"values": [{"zone": "Antagonism", "level": 1.5}, {"zone": "Synergism", "level": 0.46}]},
         "mark": {"type": "text", "angle": 270, "fontSize": 16, "align": "center", "baseline": "middle", "dy": -24, "color": "#111"},
         "encoding": {"x": {"datum": "50,6.25", "type": "nominal"}, "y": {"field": "level", "type": "quantitative"}, "text": {"field": "zone"}}}
      ]
    }
  ]
}
